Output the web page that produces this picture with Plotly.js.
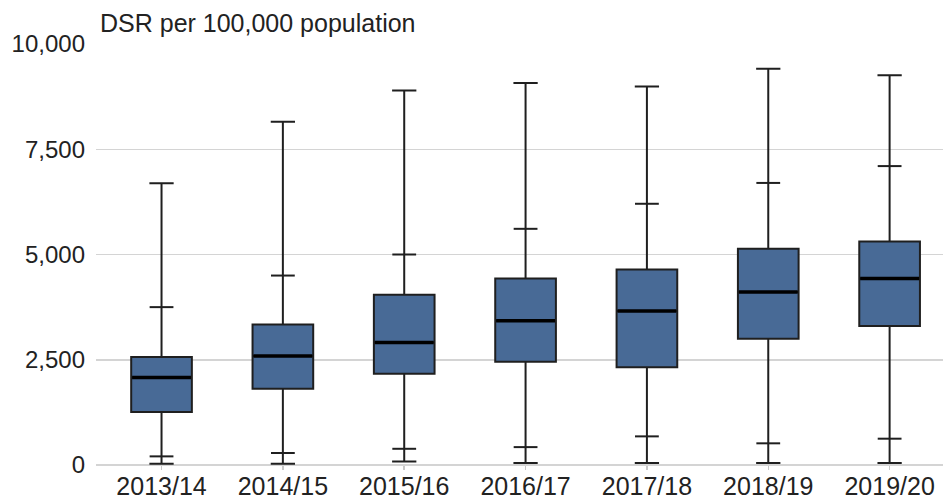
<!DOCTYPE html>
<html>
<head>
<meta charset="utf-8">
<script src="https://cdn.plot.ly/plotly-3.0.1.min.js"></script>
<style>html,body{margin:0;padding:0;background:#fff;}#chart{width:943px;height:499px;}</style>
</head>
<body>
<div id="chart"></div>
<script>
var years = ["2013/14","2014/15","2015/16","2016/17","2017/18","2018/19","2019/20"];
var minVals = [30, 30, 85, 45, 45, 45, 45];
var lowerPct = [205, 285, 385, 425, 680, 515, 625];
var q1Vals = [1260, 1810, 2170, 2455, 2320, 3000, 3300];
var medianVals = [2080, 2590, 2910, 3425, 3655, 4110, 4430];
var q3Vals = [2565, 3340, 4045, 4430, 4645, 5135, 5310];
var upperPct = [3750, 4500, 5000, 5610, 6205, 6700, 7100];
var maxVals = [6690, 8155, 8895, 9075, 8990, 9410, 9260];
var yTicks = [0, 2500, 5000, 7500, 10000];
var yTickText = ["0", "2,500", "5,000", "7,500", "10,000"];
var yLabel = "DSR per 100,000 population";

var lineCol = "#1f1f1f";
var boxTrace = {
  type: "box",
  x: years,
  lowerfence: minVals,
  q1: q1Vals,
  median: medianVals,
  q3: q3Vals,
  upperfence: maxVals,
  width: 0.5,
  whiskerwidth: 0.4,
  fillcolor: "#486a96",
  line: {color: lineCol, width: 2},
  boxpoints: false,
  hoverinfo: "skip",
  showlegend: false
};
function tickTrace(vals, size, w, col) {
  return {
    type: "scatter", mode: "markers", x: years, y: vals,
    marker: {symbol: "line-ew", size: size, color: col, line: {color: col, width: w}},
    hoverinfo: "skip", showlegend: false
  };
}
var data = [boxTrace, tickTrace(lowerPct, 17, 2, lineCol), tickTrace(upperPct, 17, 2, lineCol), tickTrace(medianVals, 42, 3.5, "#000")];

var layout = {
  width: 943, height: 499,
  margin: {l: 96, r: 0, t: 44, b: 34},
  paper_bgcolor: "#fff", plot_bgcolor: "#fff",
  font: {family: "Liberation Sans, Arial, sans-serif", color: "#222", size: 24},
  xaxis: {
    type: "category", range: [-0.54, 6.44],
    showgrid: false, zeroline: false, showline: false,
    ticks: "outside", ticklen: 4, tickcolor: "#c8c8c8", tickwidth: 1.5,
    ticklabelstandoff: -5,
    tickfont: {size: 25, color: "#222"}
  },
  yaxis: {
    range: [0, 10000], tickvals: yTicks, ticktext: yTickText,
    showgrid: true, gridcolor: "#d4d4d4", gridwidth: 1.5,
    zeroline: true, zerolinecolor: "#d4d4d4", zerolinewidth: 1.5,
    showline: false, ticks: "", ticklabelstandoff: 10,
    tickfont: {size: 24, color: "#222"}
  },
  annotations: [{
    text: yLabel, xref: "paper", yref: "paper", x: 0, y: 1,
    xanchor: "left", yanchor: "bottom", xshift: 2, yshift: 5, showarrow: false,
    font: {size: 25, color: "#222"}
  }]
};
Plotly.newPlot("chart", data, layout, {displayModeBar: false, staticPlot: true});
</script>
</body>
</html>
